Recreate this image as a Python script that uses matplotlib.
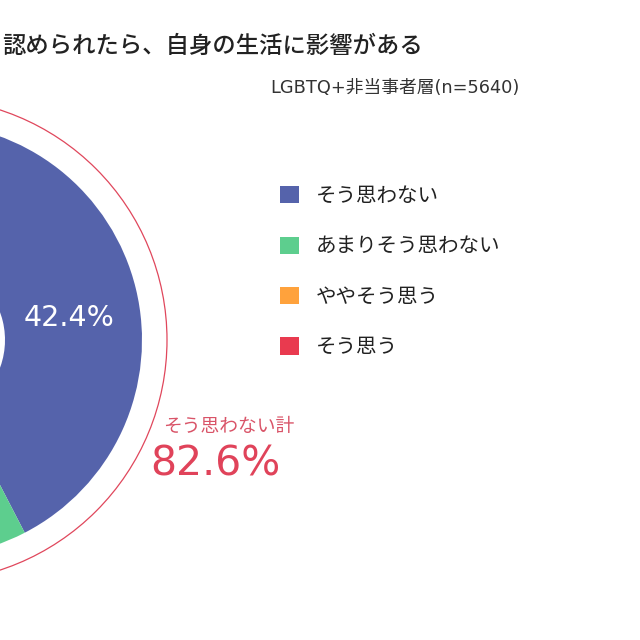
import matplotlib
matplotlib.use("Agg")
import matplotlib.pyplot as plt
from matplotlib.patches import Circle

plt.rcParams['font.family'] = ['Noto Sans CJK JP', 'DejaVu Sans']
LATIN = ['DejaVu Sans', 'Noto Sans CJK JP']

title = "認められたら、自身の生活に影響がある"
subtitle = "LGBTQ+非当事者層(n=5640)"
categories = ["そう思わない", "あまりそう思わない", "ややそう思う", "そう思う"]
values = [42.4, 40.2, 12.5, 4.9]
colors = ["#5563ab", "#5dce8e", "#ffa23c", "#e93a4f"]
total_label = "そう思わない計"
total_value = 82.6

fig = plt.figure(figsize=(6.4, 6.4), dpi=100)
ax = fig.add_axes([0, 0, 1, 1])

cx, cy = -75, 640 - 340
R = 217
hole = 80

wedges, _ = ax.pie(values, colors=colors, startangle=90, counterclock=False,
                   center=(cx, cy), radius=R,
                   wedgeprops=dict(width=R - hole, linewidth=0))
ax.add_patch(Circle((cx, cy), 242, fill=False, edgecolor="#e0475c", linewidth=0.9))

ax.set_xlim(0, 640)
ax.set_ylim(0, 640)
ax.set_aspect('equal')
ax.axis('off')

ax.text(2, 640 - 46, title, fontsize=16.8, fontweight='medium', color="#222222",
        ha='left', va='center')
ax.text(270, 640 - 88, subtitle, fontsize=12.8, color="#333333", ha='left', va='center',
        family=LATIN)

ax.text(69, 640 - 318, f"{values[0]:.1f}%", fontsize=20.5, color="white",
        ha='center', va='center', family=LATIN)

ax.text(163, 640 - 426, total_label, fontsize=13.5, color="#d95468", ha='left', va='center')
ax.text(150, 640 - 465, f"{total_value:.1f}%", fontsize=29.5, color="#e0435a",
        ha='left', va='center', family=LATIN)

leg = ax.legend(wedges, categories, loc='upper left', bbox_to_anchor=(280 / 640, 1 - 185 / 640),
                frameon=False, fontsize=14.8, handlelength=0.9, handleheight=0.9,
                handletextpad=0.85, labelspacing=1.38, borderpad=0, borderaxespad=0)
for t in leg.get_texts():
    t.set_color("#222222")

fig.savefig("out.png", dpi=100, facecolor="white")
